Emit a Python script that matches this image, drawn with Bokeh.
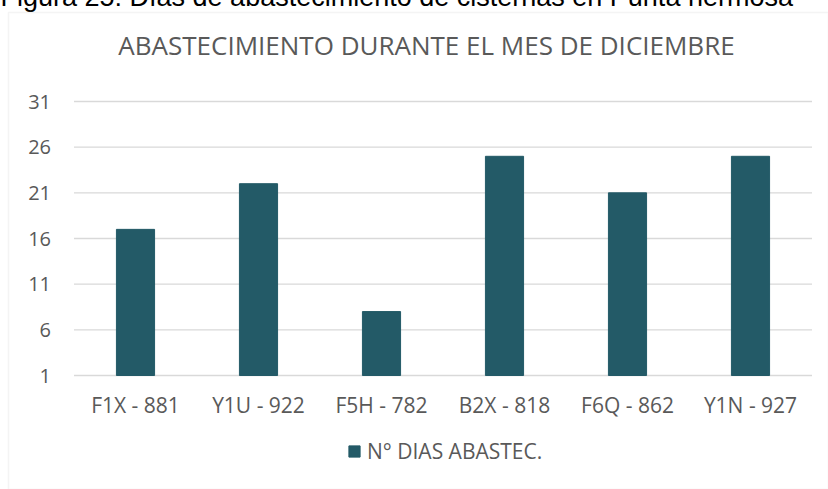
from bokeh.plotting import figure
from bokeh.models import (Range1d, FixedTicker, Label, BoxAnnotation, Legend, LegendItem)
from bokeh.embed import file_html
from bokeh.resources import INLINE

# ---- data ----
categories = ["F1X - 881", "Y1U - 922", "F5H - 782", "B2X - 818", "F6Q - 862", "Y1N - 927"]
dias = [17, 22, 8, 25, 21, 25]
y_ticks = [1, 6, 11, 16, 21, 26, 31]
series_name = "N° DIAS ABASTEC."
chart_title = "ABASTECIMIENTO DURANTE EL MES DE DICIEMBRE"
caption = "Figura 25: Días de abastecimiento de cisternas en Punta hermosa"

BAR = "#235A67"
TXT = "#595959"
GRID = "#D9D9D9"
FONT = "Open Sans"

OFF = 8  # canvas origin sits 8px above/left of the page origin
W, H = 828 + OFF, 489 + OFF

# page-pixel layout of the chart area
PX_L, PX_R = 73.5, 811.5      # left / right edge of the category band
PX_TOP, PX_BOT = 101.0, 375.0  # y of top tick and bottom tick

n = len(categories)
ux = (PX_R - PX_L) / n
x0 = -(PX_L + OFF) / ux
x1 = x0 + W / ux
uy = (PX_BOT - PX_TOP) / (y_ticks[-1] - y_ticks[0])
y1 = y_ticks[-1] + (PX_TOP + OFF) / uy
y0 = y1 - H / uy

def px2x(px):
    return x0 + (px + OFF) / ux

def px2y(py):
    return y1 - (py + OFF) / uy

p = figure(x_range=Range1d(x0, x1), y_range=Range1d(y0, y1),
           width=W, height=H, output_backend="svg", toolbar_location=None,
           min_border=0)
p.margin = (-OFF, -OFF, -OFF, -OFF)
p.outline_line_color = None
p.background_fill_color = "white"
p.border_fill_color = "white"
p.xgrid.grid_line_color = None
p.ygrid.grid_line_color = None

xpos = [i + 0.5 for i in range(n)]

# horizontal gridlines at the tick values
p.segment(x0=[0] * len(y_ticks), x1=[n] * len(y_ticks), y0=y_ticks, y1=y_ticks,
          line_color=GRID, line_width=1.3)

r = p.vbar(x=xpos, top=dias, bottom=y_ticks[0], width=0.31,
           fill_color=BAR, line_color=BAR)

# axes (placed inside the frame)
p.yaxis.fixed_location = 0
p.yaxis.ticker = FixedTicker(ticks=y_ticks)
p.yaxis.axis_line_color = None
p.yaxis.major_tick_line_color = None
p.yaxis.minor_tick_line_color = None
p.yaxis.major_label_standoff = 17
p.yaxis.major_label_text_font = FONT
p.yaxis.major_label_text_font_size = "20px"
p.yaxis.major_label_text_color = TXT

p.xaxis.fixed_location = y_ticks[0]
p.xaxis.ticker = FixedTicker(ticks=xpos)
p.xaxis.major_label_overrides = {x: c for x, c in zip(xpos, categories)}
p.xaxis.axis_line_color = None
p.xaxis.major_tick_line_color = None
p.xaxis.minor_tick_line_color = None
p.xaxis.major_label_standoff = 9
p.xaxis.major_label_text_font = FONT
p.xaxis.major_label_text_font_size = "21px"
p.xaxis.major_label_text_color = TXT

# chart title
p.add_layout(Label(x=px2x(426), y=px2y(44), text=chart_title,
                   text_font=FONT, text_font_size="26px", text_color=TXT,
                   text_align="center", text_baseline="alphabetic"))

# caption above the chart area (cut off at the page top, as in the reference)
p.add_layout(Label(x=px2x(0), y=px2y(-4), text=caption,
                   text_font="Liberation Sans", text_font_size="27px", text_color="black",
                   text_align="left", text_baseline="alphabetic"))

# chart area border (left and top edges visible)
p.add_layout(BoxAnnotation(left=px2x(8), top=px2y(12),
                           fill_alpha=0, line_color=GRID, line_width=1.5))

legend = Legend(items=[LegendItem(label=series_name, renderers=[r])],
                location=(347 + OFF, H - (465 + OFF)), orientation="horizontal",
                glyph_width=14, glyph_height=14, label_standoff=6, label_height=20,
                padding=0, margin=0, border_line_color=None,
                background_fill_alpha=0,
                label_text_font=FONT, label_text_font_size="21px",
                label_text_color=TXT)
p.add_layout(legend, "center")

open("out.html", "w").write(file_html(p, INLINE))
